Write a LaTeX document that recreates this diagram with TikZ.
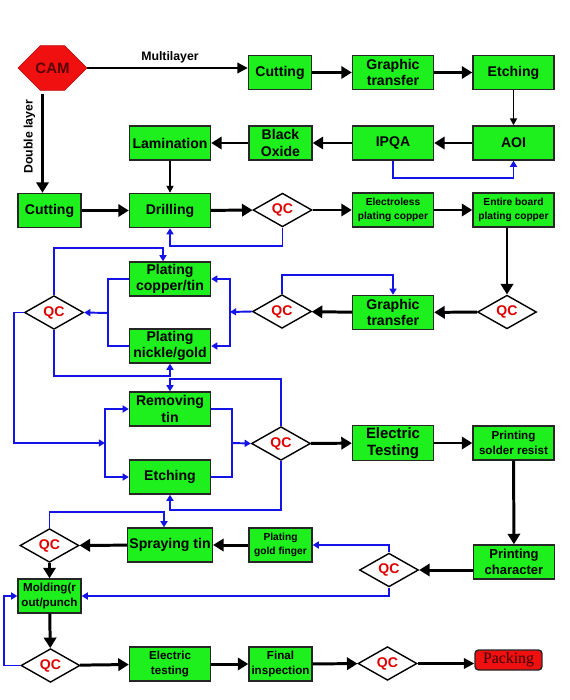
\documentclass[tikz,border=0pt]{standalone}
\usepackage{fontspec}
\setmainfont{Liberation Sans}
\newfontfamily\packfont{Liberation Serif}
\usetikzlibrary{arrows.meta, shapes.geometric, shapes.misc, calc}
\definecolor{boxgreen}{HTML}{1EF01E}
\definecolor{camred}{HTML}{F01010}
\definecolor{flowblue}{HTML}{1414E6}
\definecolor{qcred}{HTML}{E00000}

\begin{document}
\begin{tikzpicture}[x=0.02cm, y=-0.02cm,
    gbox/.style={draw=black!85, line width=0.8pt, fill=boxgreen, align=center, inner sep=1pt,
      minimum height=0.68cm, font=\bfseries\fontsize{8}{9.5}\selectfont},
    wbox/.style={gbox, minimum width=1.62cm},
    nbox/.style={gbox, minimum width=1.26cm},
    smalltext/.style={font=\bfseries\fontsize{5.8}{7.6}\selectfont},
    midtext/.style={font=\bfseries\fontsize{6.6}{8.4}\selectfont},
    qc/.style={diamond, draw, line width=0.8pt, fill=white, inner sep=0pt,
      minimum width=1.18cm, minimum height=0.58cm, text=qcred, font=\bfseries\fontsize{8}{9}\selectfont},
    cam/.style={chamfered rectangle, chamfered rectangle xsep=0.3cm, chamfered rectangle ysep=0.42cm,
      minimum width=1.38cm, minimum height=0.84cm, inner sep=0pt, fill=camred, draw=camred!80!black,
      text=red!35!black, font=\bfseries\fontsize{8.5}{10}\selectfont},
    pack/.style={rounded corners=2pt, draw=black!85, line width=0.8pt, fill=camred, minimum width=1.34cm,
      minimum height=0.4cm, inner sep=0pt, text=red!20!black, font=\packfont\fontsize{9}{10}\selectfont},
    labeltext/.style={font=\bfseries\fontsize{7}{8}\selectfont},
    flow/.style={line width=1.7pt, -{Triangle[length=6pt,width=7pt]}},
    midflow/.style={line width=1.3pt, -{Triangle[length=6pt,width=6pt]}},
    thinflow/.style={line width=0.9pt, -{Triangle[length=4pt,width=4pt]}},
    bluearrow/.style={draw=flowblue, line width=1.1pt, -{Triangle[length=3.5pt,width=4pt]}},
    blueline/.style={draw=flowblue, line width=1.1pt}]
  \useasboundingbox (0,0) rectangle (569,700);

  % row 1 and 2: multilayer
  \node[cam] (cam) at (52.5,68) {CAM};
  \node[nbox] (cut1) at (280,72.5) {Cutting};
  \node[wbox] (gt1) at (393,72.5) {Graphic\\transfer};
  \node[wbox] (etch1) at (513.5,72.5) {Etching};
  \node[wbox] (lam) at (170,143) {Lamination};
  \node[nbox] (oxide) at (280.5,143) {Black\\Oxide};
  \node[wbox] (ipqa) at (393,143) {IPQA};
  \node[wbox] (aoi) at (513.5,143) {AOI};

  % row 3
  \node[nbox] (cut2) at (49.5,210.5) {Cutting};
  \node[wbox] (drill) at (170,210.5) {Drilling};
  \node[qc] (qc1) at (282.5,210) {QC};
  \node[wbox, smalltext] (elec) at (393,210) {Electroless\\plating copper};
  \node[wbox, smalltext] (entire) at (513.5,210) {Entire board\\plating copper};

  % row 4: plating
  \node[qc] (qc2) at (507,312) {QC};
  \node[wbox] (gt2) at (393,312.5) {Graphic\\transfer};
  \node[qc] (qc3) at (282,311.5) {QC};
  \node[wbox] (ct) at (170,279) {Plating\\copper/tin};
  \node[wbox] (ng) at (170,346) {Plating\\nickle/gold};
  \node[qc] (qc4) at (54,312.5) {QC};

  % row 5
  \node[wbox] (rt) at (170,409) {Removing\\tin};
  \node[wbox] (etch2) at (170,477) {Etching};
  \node[qc] (qc5) at (281,443.5) {QC};
  \node[wbox, font=\bfseries\fontsize{8.5}{10}\selectfont] (etest1) at (393,443) {Electric\\Testing};
  \node[wbox, midtext] (psr) at (513.5,443) {Printing\\solder resist};

  % row 6 and 7
  \node[wbox, font=\bfseries\fontsize{7.4}{9}\selectfont] (pch) at (514,562) {Printing\\character};
  \node[qc] (qc6) at (389,570) {QC};
  \node[nbox, smalltext] (gf) at (280.5,545) {Plating\\gold finger};
  \node[wbox] (st) at (170,545) {Spraying tin};
  \node[qc] (qc7) at (49.5,545.5) {QC};
  \node[nbox, midtext] (mold) at (49.5,596) {Molding(r\\out/punch};
  \node[qc] (qc8) at (50.5,665.5) {QC};
  \node[wbox, midtext] (etest2) at (170,664) {Electric\\testing};
  \node[nbox, midtext] (fi) at (280.5,664) {Final\\inspection};
  \node[qc] (qc9) at (387.5,663.5) {QC};
  \node[pack] (pack) at (508.5,660) {Packing};

  \coordinate (dl) at ([xshift=-0.2cm]cam.south);
  \coordinate (ml) at (cam.east -| cut1.west);
  \coordinate (jr1) at (230,312);
  \coordinate (jl1) at (108,313);
  \coordinate (jl2) at (105,443);
  \coordinate (jr2) at (232,443);

  % black flow
  \draw[midflow] (cam.east) -- (ml);
  \node[labeltext] (mlabel) at (170,57) {Multilayer};
  \draw[flow, shorten <=2pt] (dl) -- node[pos=0.45, anchor=south, rotate=90, labeltext] {Double layer} (dl |- cut2.north);
  \draw[flow] (cut1) -- (gt1);
  \draw[flow] (gt1) -- (etch1);
  \draw[thinflow] (etch1) -- (aoi);
  \draw[flow] (aoi) -- (ipqa);
  \draw[flow] (ipqa) -- (oxide);
  \draw[flow] (oxide) -- (lam);
  \draw[thinflow] (lam) -- (drill);
  \draw[flow] (cut2) -- (drill);
  \draw[flow] (drill) -- (qc1);
  \draw[flow] (qc1) -- (elec);
  \draw[flow] (elec) -- (entire);
  \draw[flow] (entire.south -| qc2.north) -- (qc2.north);
  \draw[flow] (qc2) -- (gt2);
  \draw[flow] (gt2) -- (qc3);
  \draw[flow] (qc5) -- (etest1);
  \draw[flow] (etest1) -- (psr);
  \draw[flow] (psr) -- (pch);
  \draw[flow] (pch.west |- qc6.east) -- (qc6.east);
  \draw[flow] (gf) -- (st);
  \draw[flow] (st) -- (qc7);
  \draw[flow] (qc7) -- (mold);
  \draw[flow] (mold) -- (qc8);
  \draw[flow] (qc8) -- (etest2);
  \draw[flow] (etest2) -- (fi);
  \draw[flow] (fi) -- (qc9);
  \draw[midflow] (qc9.east) -- (qc9.east -| pack.west);

  % blue rework loops
  \draw[bluearrow] (ipqa.south) -- ++(0,17) -| (aoi.south);
  \draw[bluearrow] (qc1.south) -- ++(0,18) -| (drill.south);
  \draw[bluearrow] (qc3.north) -- ++(0,-19) -| (gt2.north);
  \draw[bluearrow] (qc3.west) -- (jr1);
  \draw[bluearrow] (jr1) |- (ct.east);
  \draw[bluearrow] (jr1) |- (ng.east);
  \draw[blueline] (ct.west) -| (jl1) |- (ng.west);
  \draw[bluearrow] (jl1) -- (qc4.east);
  \draw[bluearrow] (qc4.north) -- ++(0,-47) -| ([xshift=-0.14cm]ct.north);
  \draw[bluearrow] (qc4.south) -- ++(0,46) -| (ng.south);
  \draw[bluearrow] (qc4.west) -- ++(-10,0) |- (jl2);
  \draw[bluearrow] (jl2) |- (rt.west);
  \draw[bluearrow] (jl2) |- (etch2.west);
  \draw[blueline] (rt.east) -| (jr2) |- (etch2.east);
  \draw[bluearrow] (jr2) -- (qc5.west);
  \draw[bluearrow] (qc5.north) -- ++(0,-47) -| (rt.north);
  \draw[bluearrow] (qc5.south) -- ++(0,49) -| (etch2.south);
  \draw[bluearrow] (qc6.north) |- (gf.east);
  \draw[bluearrow] (qc6.south) |- (mold.east);
  \draw[bluearrow] (qc7.north) -- ++(0,-16) -| ([xshift=-0.12cm]st.north);
  \draw[bluearrow] (qc8.west) -- ++(-16,0) |- (mold.west);
\end{tikzpicture}
\end{document}
